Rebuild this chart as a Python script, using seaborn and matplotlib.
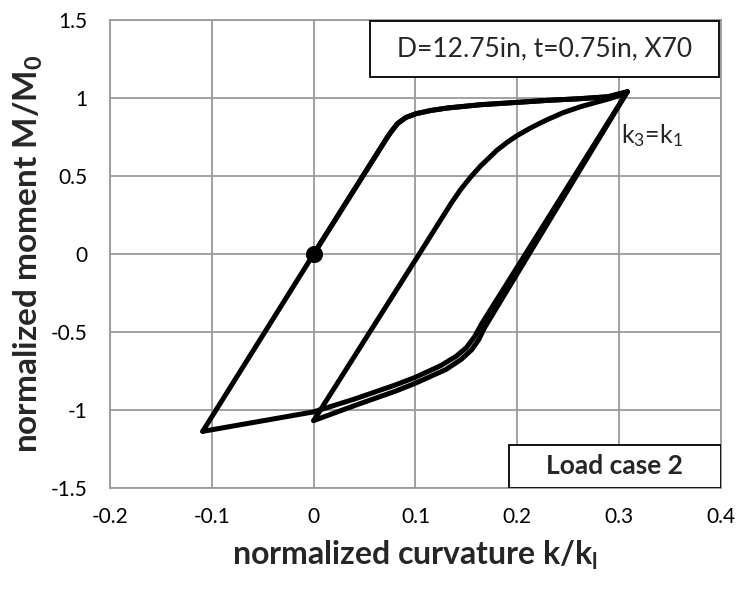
import pandas as pd
import matplotlib
matplotlib.use('Agg')
import matplotlib.pyplot as plt
from matplotlib.patches import Rectangle
import seaborn as sns

sns.set_style('white')
plt.rcParams['font.family'] = ['Lato', 'DejaVu Sans']
plt.rcParams['mathtext.default'] = 'regular'

# normalized curvature k/kl and moment M/M0, one list per branch
load_k = [0.0, 0.072, 0.0757, 0.0823, 0.0905, 0.1003, 0.115, 0.1315, 0.164, 0.2, 0.23, 0.26, 0.289, 0.308]
load_m = [0.0, 0.745, 0.78, 0.836, 0.875, 0.899, 0.92, 0.936, 0.957, 0.972, 0.985, 0.995, 1.008, 1.04]

unload1_k = [0.308, 0.165, 0.158, 0.15, 0.14, 0.125, 0.1, 0.08, 0.04, 0.0, -0.055, -0.109]
unload1_m = [1.04, -0.447, -0.53, -0.6, -0.655, -0.715, -0.79, -0.84, -0.93, -1.012, -1.075, -1.137]

reload1_k = [-0.109, 0.0, 0.072, 0.0757, 0.0823, 0.0905, 0.1003, 0.115, 0.1315, 0.164, 0.2, 0.23, 0.26, 0.289, 0.308]
reload1_m = [-1.137, 0.0, 0.745, 0.78, 0.836, 0.875, 0.899, 0.92, 0.936, 0.957, 0.972, 0.985, 0.995, 1.008, 1.04]

unload2_k = [0.308, 0.168, 0.162, 0.155, 0.145, 0.13, 0.1, 0.08, 0.04, 0.0]
unload2_m = [1.04, -0.47, -0.55, -0.615, -0.675, -0.74, -0.828, -0.88, -0.972, -1.068]

reload2_k = [0.0, 0.1, 0.135, 0.1445, 0.155, 0.164, 0.18, 0.19, 0.2, 0.215, 0.229, 0.245, 0.262, 0.275, 0.289, 0.3, 0.308]
reload2_m = [-1.068, -0.038, 0.325, 0.415, 0.5, 0.565, 0.665, 0.716, 0.76, 0.815, 0.86, 0.906, 0.944, 0.968, 0.993, 1.015, 1.04]

start_k = [0.0]
start_m = [0.0]

x_ticks = [-0.2, -0.1, 0.0, 0.1, 0.2, 0.3, 0.4]
x_labels = ['-0.2', '-0.1', '0', '0.1', '0.2', '0.3', '0.4']
y_ticks = [-1.5, -1.0, -0.5, 0.0, 0.5, 1.0, 1.5]
y_labels = ['-1.5', '-1', '-0.5', '0', '0.5', '1', '1.5']

branches = [('load', load_k, load_m), ('unload1', unload1_k, unload1_m),
            ('reload1', reload1_k, reload1_m), ('unload2', unload2_k, unload2_m),
            ('reload2', reload2_k, reload2_m)]
rows = []
for name, ks, ms in branches:
    for k, m in zip(ks, ms):
        rows.append({'branch': name, 'k': k, 'm': m})
df = pd.DataFrame(rows)

fig = plt.figure(figsize=(7.38, 5.89), dpi=100)
ax = fig.add_axes([110/738, 101/589, 611/738, 468/589])

sns.lineplot(data=df, x='k', y='m', units='branch', estimator=None, sort=False,
             color='black', lw=3.6, ax=ax, zorder=3)
sns.scatterplot(x=start_k, y=start_m, color='black', s=130, edgecolor='black', ax=ax, zorder=4)

ax.set_xlim(-0.2, 0.4)
ax.set_ylim(-1.5, 1.5)
ax.set_xticks(x_ticks)
ax.set_xticklabels(x_labels)
ax.set_yticks(y_ticks)
ax.set_yticklabels(y_labels)
ax.tick_params(axis='both', length=0, labelsize=15, colors='black')
ax.tick_params(axis='x', pad=14)
ax.tick_params(axis='y', pad=16)
ax.grid(True, color='#9a9a9a', lw=1.3)
for s in ax.spines.values():
    s.set_color('#9a9a9a')
    s.set_linewidth(1.3)

ax.set_xlabel('normalized curvature k/k$_l$', fontsize=23, fontweight='bold', labelpad=8)
ax.set_ylabel('normalized moment M/M$_0$', fontsize=24, fontweight='bold', labelpad=4)

# annotation boxes
ax.add_patch(Rectangle((0.4255, 0.878), 0.5712, 0.12, transform=ax.transAxes,
                       facecolor='white', edgecolor='black', lw=1.3, zorder=5))
ax.text(0.711, 0.938, 'D=12.75in, t=0.75in, X70', transform=ax.transAxes,
        ha='center', va='center', fontsize=19, zorder=6)
ax.add_patch(Rectangle((0.6525, 0.0), 0.3475, 0.092, transform=ax.transAxes,
                       facecolor='white', edgecolor='black', lw=1.3, zorder=5))
ax.text(0.826, 0.046, 'Load case 2', transform=ax.transAxes,
        ha='center', va='center', fontsize=19, fontweight='bold', zorder=6)
ax.text(0.302, 0.71, 'k$_3$=k$_1$', ha='left', va='baseline', fontsize=18, zorder=6)

fig.savefig('out.png', dpi=100)
